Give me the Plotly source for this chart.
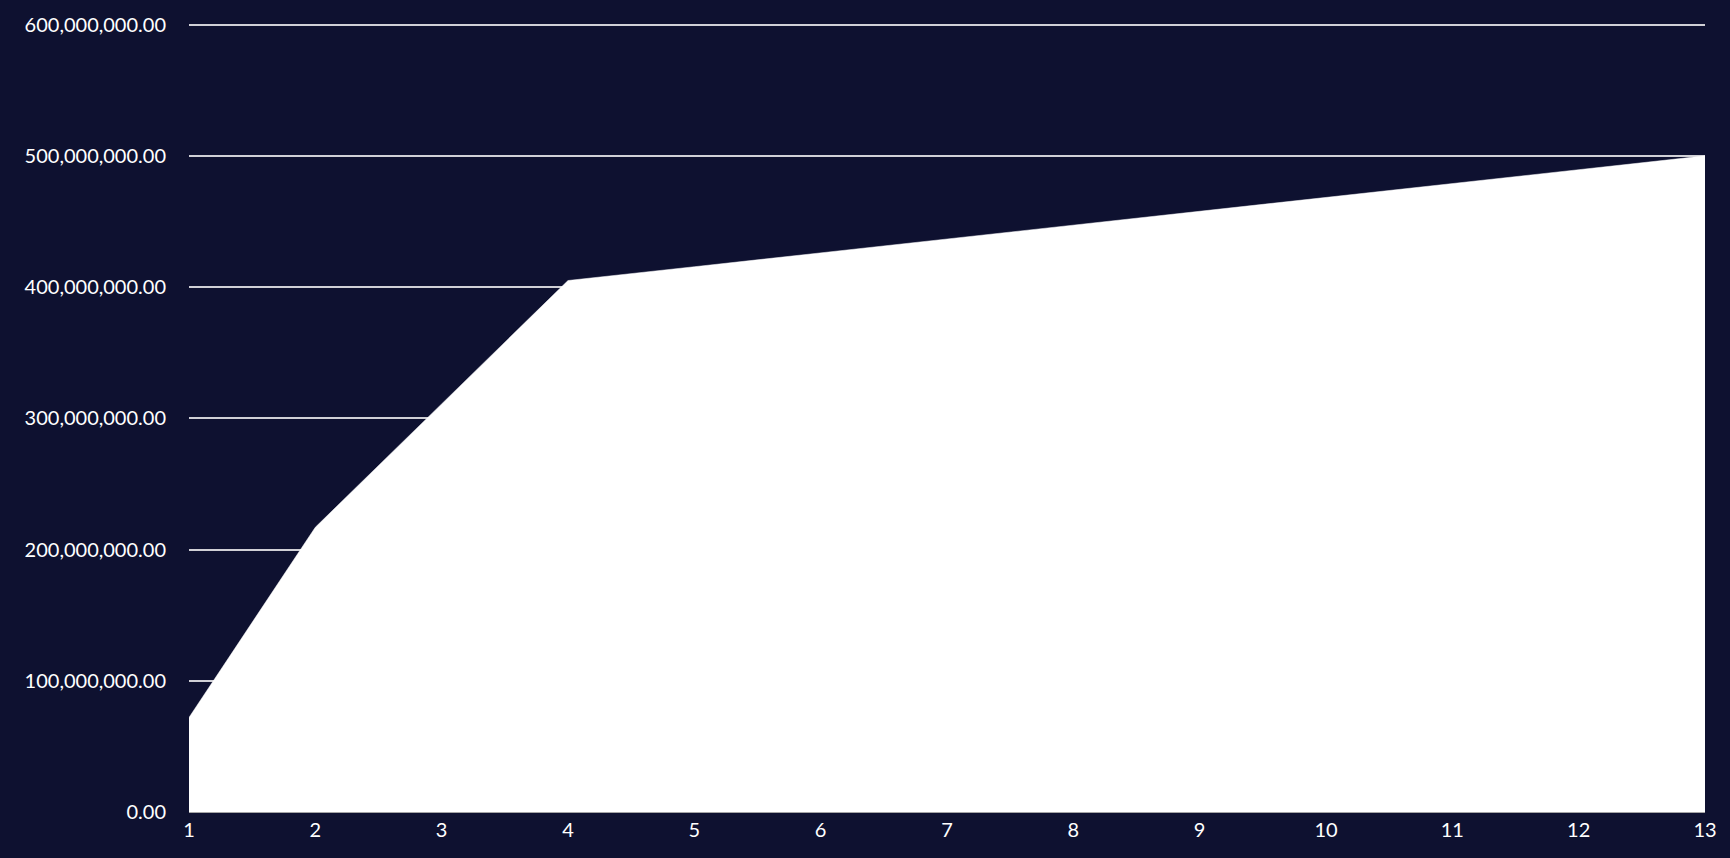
import plotly.graph_objects as go

periods = [1, 2, 3, 4, 5, 6, 7, 8, 9, 10, 11, 12, 13]
values = [72e6, 217e6, 311e6, 405e6, 415.5e6, 426e6, 436.5e6, 447e6, 458e6, 468.5e6, 479e6, 489.5e6, 500e6]
y_ticks = [0, 100e6, 200e6, 300e6, 400e6, 500e6, 600e6]

fig = go.Figure()
fig.add_trace(go.Scatter(
    x=periods, y=values, mode="lines", fill="tozeroy",
    fillcolor="#ffffff", line=dict(color="#ffffff", width=0.5),
    hoverinfo="skip", showlegend=False,
))

font = dict(family="Lato, 'Open Sans', sans-serif", size=20, color="#ffffff")
fig.update_layout(
    width=1730, height=858,
    margin=dict(l=189, r=25, t=16, b=46),
    paper_bgcolor="#0e1130", plot_bgcolor="rgba(0,0,0,0)",
    font=font, showlegend=False,
    xaxis=dict(range=[1, 13], tickvals=periods, showgrid=False, zeroline=False,
               showline=True, linecolor="#a6a6a6", linewidth=1, ticks="", tickfont=font),
    yaxis=dict(range=[0, 602e6], tickvals=y_ticks, tickformat=",.2f",
               showgrid=True, gridcolor="#d0d0d6", gridwidth=1.5, zeroline=False,
               showline=False, ticks="", ticklabelstandoff=22, tickfont=font),
)
fig.write_html("out.html", config={"displayModeBar": False},
               post_script="document.body.style.margin='0';document.body.style.overflow='hidden';")
